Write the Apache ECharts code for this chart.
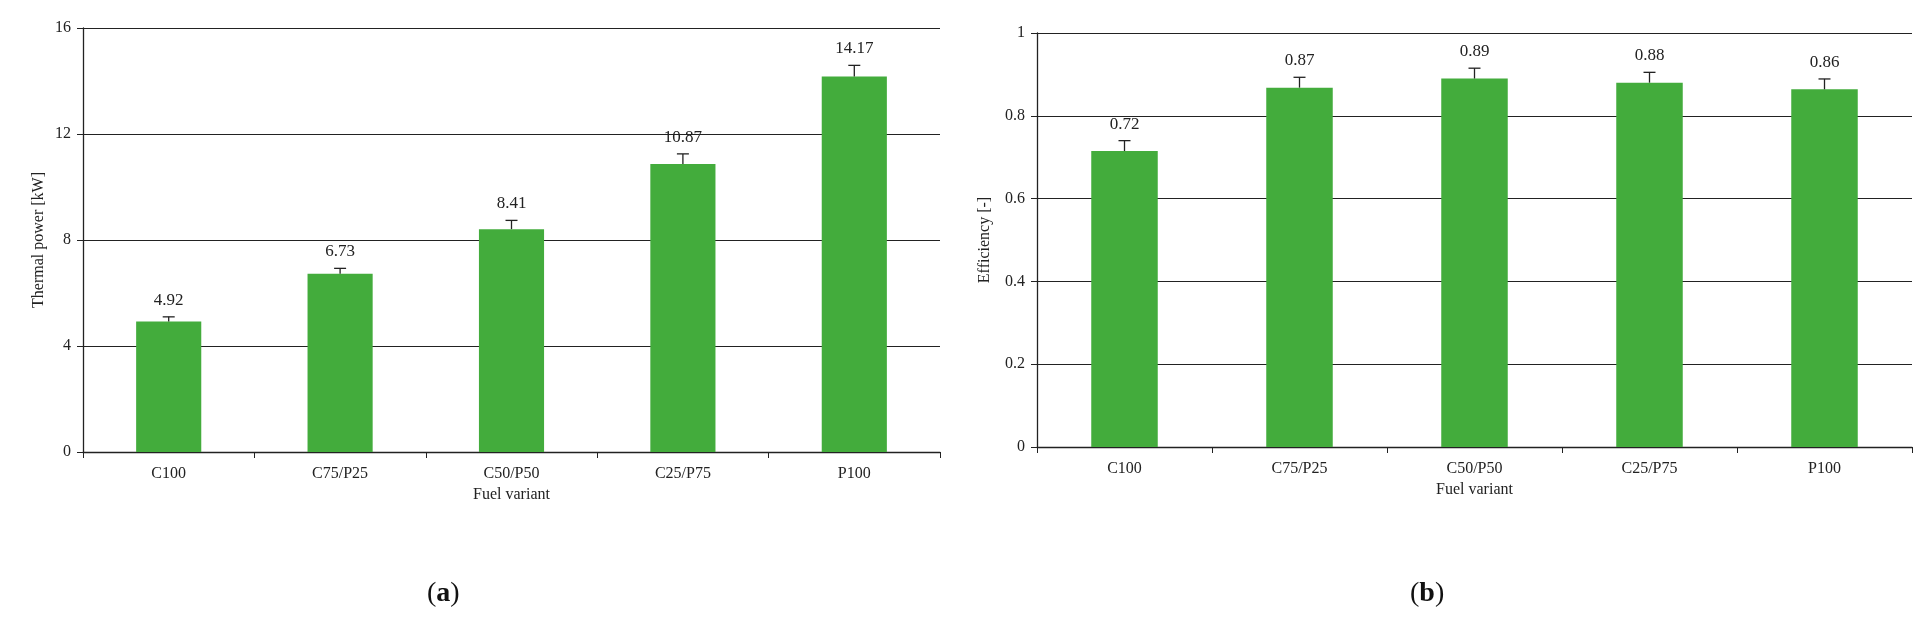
<!DOCTYPE html>
<html>
<head>
<meta charset="utf-8">
<script src="https://cdn.jsdelivr.net/npm/echarts@6/dist/echarts.min.js"></script>
<style>html,body{margin:0;background:#fff}#c{width:1920px;height:622px}</style>
</head>
<body>
<div id="c"></div>
<script>
const categories = ['C100', 'C75/P25', 'C50/P50', 'C25/P75', 'P100'];
const powerValues = [4.92, 6.73, 8.41, 10.87, 14.17];
const powerErrors = [0.18, 0.2, 0.33, 0.38, 0.42];
const effValues = [0.715, 0.868, 0.89, 0.88, 0.864];
const effLabels = ['0.72', '0.87', '0.89', '0.88', '0.86'];
const effErrors = [0.025, 0.025, 0.025, 0.025, 0.025];

const font = 'Liberation Serif';
const green = '#43ac3c';

function errorSeries(axisIdx, vals, errs, labels) {
  return {
    type: 'custom', xAxisIndex: axisIdx, yAxisIndex: axisIdx, z: 5,
    data: vals.map((v, i) => [i, v, v + errs[i], labels[i]]),
    renderItem: (params, api) => {
      const p0 = api.coord([api.value(0), api.value(1)]);
      const p1 = api.coord([api.value(0), api.value(2)]);
      const st = { stroke: '#222', lineWidth: 1.3 };
      return {
        type: 'group', children: [
          { type: 'line', shape: { x1: p0[0], y1: p0[1], x2: p1[0], y2: p1[1] }, style: st },
          { type: 'line', shape: { x1: p1[0] - 6, y1: p1[1], x2: p1[0] + 6, y2: p1[1] }, style: st },
          { type: 'text', x: p1[0], y: p1[1] - 8, style: { text: labels[params.dataIndex], font: '17px "' + font + '"', fill: '#222', align: 'center', verticalAlign: 'bottom' } }
        ]
      };
    }
  };
}

const axisText = { fontFamily: font, fontSize: 16, color: '#222' };
function xAxis(idx) {
  return {
    type: 'category', gridIndex: idx, data: categories,
    name: 'Fuel variant', nameLocation: 'middle', nameGap: 34, nameTextStyle: axisText,
    axisLine: { lineStyle: { color: '#222', width: 1.3 } },
    axisTick: { show: true, length: 6, lineStyle: { color: '#222' } },
    axisLabel: Object.assign({ margin: 14 }, axisText)
  };
}
function yAxis(idx, max, interval, name) {
  return {
    type: 'value', gridIndex: idx, min: 0, max: max, interval: interval,
    name: name, nameLocation: 'middle', nameGap: idx ? 44 : 36, nameTextStyle: axisText,
    axisLine: { show: true, lineStyle: { color: '#222', width: 1.3 } },
    axisTick: { show: true, length: 6, inside: false, lineStyle: { color: '#222' } },
    splitLine: { lineStyle: { color: '#222', width: 1.2 } },
    axisLabel: Object.assign({ margin: 12 }, axisText)
  };
}

const chart = echarts.init(document.getElementById('c'));
chart.setOption({
  animation: false,
  grid: [
    { left: 83, right: 1920 - 940, top: 28, bottom: 622 - 452 },
    { left: 1037, right: 8, top: 33, bottom: 622 - 447 }
  ],
  xAxis: [xAxis(0), xAxis(1)],
  yAxis: [yAxis(0, 16, 4, 'Thermal power [kW]'), yAxis(1, 1, 0.2, 'Efficiency [-]')],
  series: [
    { type: 'bar', xAxisIndex: 0, yAxisIndex: 0, data: powerValues, barWidth: '38%', itemStyle: { color: green } },
    { type: 'bar', xAxisIndex: 1, yAxisIndex: 1, data: effValues, barWidth: '38%', itemStyle: { color: green } },
    errorSeries(0, powerValues, powerErrors, powerValues.map(v => v.toFixed(2))),
    errorSeries(1, effValues, effErrors, effLabels)
  ],
  graphic: [
    { type: 'text', left: 447 - 20, top: 580, style: { text: '({a|a})', font: '28px "' + font + '"', fill: '#111', rich: { a: { fontWeight: 'bold', fontSize: 28, fontFamily: font } } } },
    { type: 'text', left: 1430 - 20, top: 580, style: { text: '({a|b})', font: '28px "' + font + '"', fill: '#111', rich: { a: { fontWeight: 'bold', fontSize: 28, fontFamily: font } } } }
  ]
});
</script>
</body>
</html>
